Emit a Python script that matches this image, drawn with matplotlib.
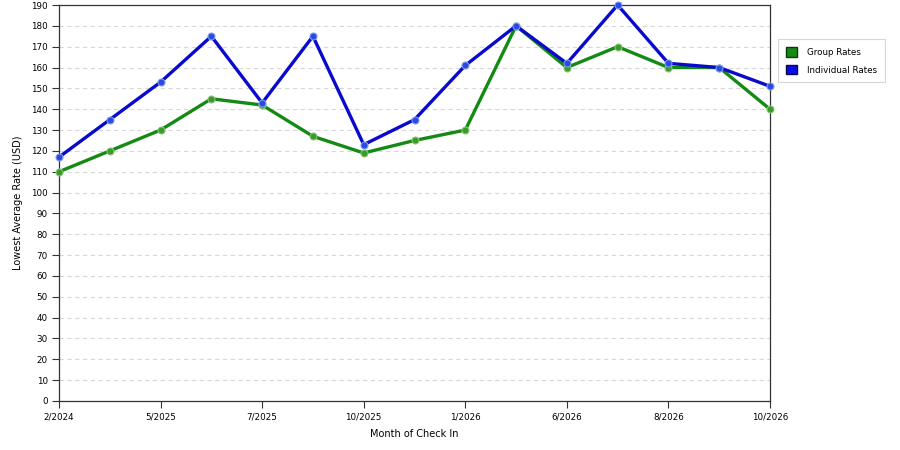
import matplotlib
matplotlib.use("Agg")
import matplotlib.pyplot as plt
from matplotlib.patches import Patch

months = ["2/2024", "", "5/2025", "", "7/2025", "", "10/2025", "", "1/2026", "",
          "6/2026", "", "8/2026", "", "10/2026"]
group_rates = [110, 120, 130, 145, 142, 127, 119, 125, 130, 180, 160, 170, 160, 160, 140]
individual_rates = [117, 135, 153, 175, 143, 175, 123, 135, 161, 180, 162, 190, 162, 160, 151]

fig = plt.figure(figsize=(9, 4.5), dpi=100)
ax = fig.add_axes([59/900, 49/450, 711/900, 396/450])

x = list(range(len(months)))
green = "#138a13"
blue = "#0a0acc"
ax.plot(x, group_rates, color=green, lw=2.4, marker="o", ms=5,
        mfc="#3a9a2a", mec="#8ac27a", mew=0.8, zorder=3, solid_capstyle="round",
        clip_on=False)
ax.plot(x, individual_rates, color=blue, lw=2.4, marker="o", ms=5,
        mfc="#2a4ae0", mec="#7a9af0", mew=0.8, zorder=4, solid_capstyle="round",
        clip_on=False)

ax.set_xlim(0, len(months) - 1)
ax.set_ylim(0, 190)
ax.set_yticks(range(0, 191, 10))
ax.set_xticks([i for i in x if months[i]])
ax.set_xticklabels([m for m in months if m])
ax.tick_params(axis="both", labelsize=6.3, length=5, width=0.8, color="#333333", pad=3)
ax.yaxis.grid(True, linestyle=(0, (4, 3)), color="#d8d8d8", lw=0.8)
ax.set_axisbelow(True)
for s in ax.spines.values():
    s.set_color("#333333")
    s.set_linewidth(0.9)

ax.set_xlabel("Month of Check In", fontsize=7, labelpad=6)
ax.set_ylabel("Lowest Average Rate (USD)", fontsize=7, labelpad=6)

handles = [Patch(facecolor="#138a13", edgecolor="#0a3a0a", label="Group Rates"),
           Patch(facecolor="#0a0aee", edgecolor="#0a0a4a", label="Individual Rates")]
leg = fig.legend(handles=handles, loc="upper left", bbox_to_anchor=(774/900, 1 - 35/450),
                 fontsize=6.3, frameon=True, fancybox=False, handlelength=1.2,
                 handleheight=1.3, borderpad=0.9, labelspacing=0.9, handletextpad=1.2,
                 borderaxespad=0.5)
leg.get_frame().set_edgecolor("#cccccc")
leg.get_frame().set_linewidth(0.8)

fig.savefig("out.png", dpi=100)
